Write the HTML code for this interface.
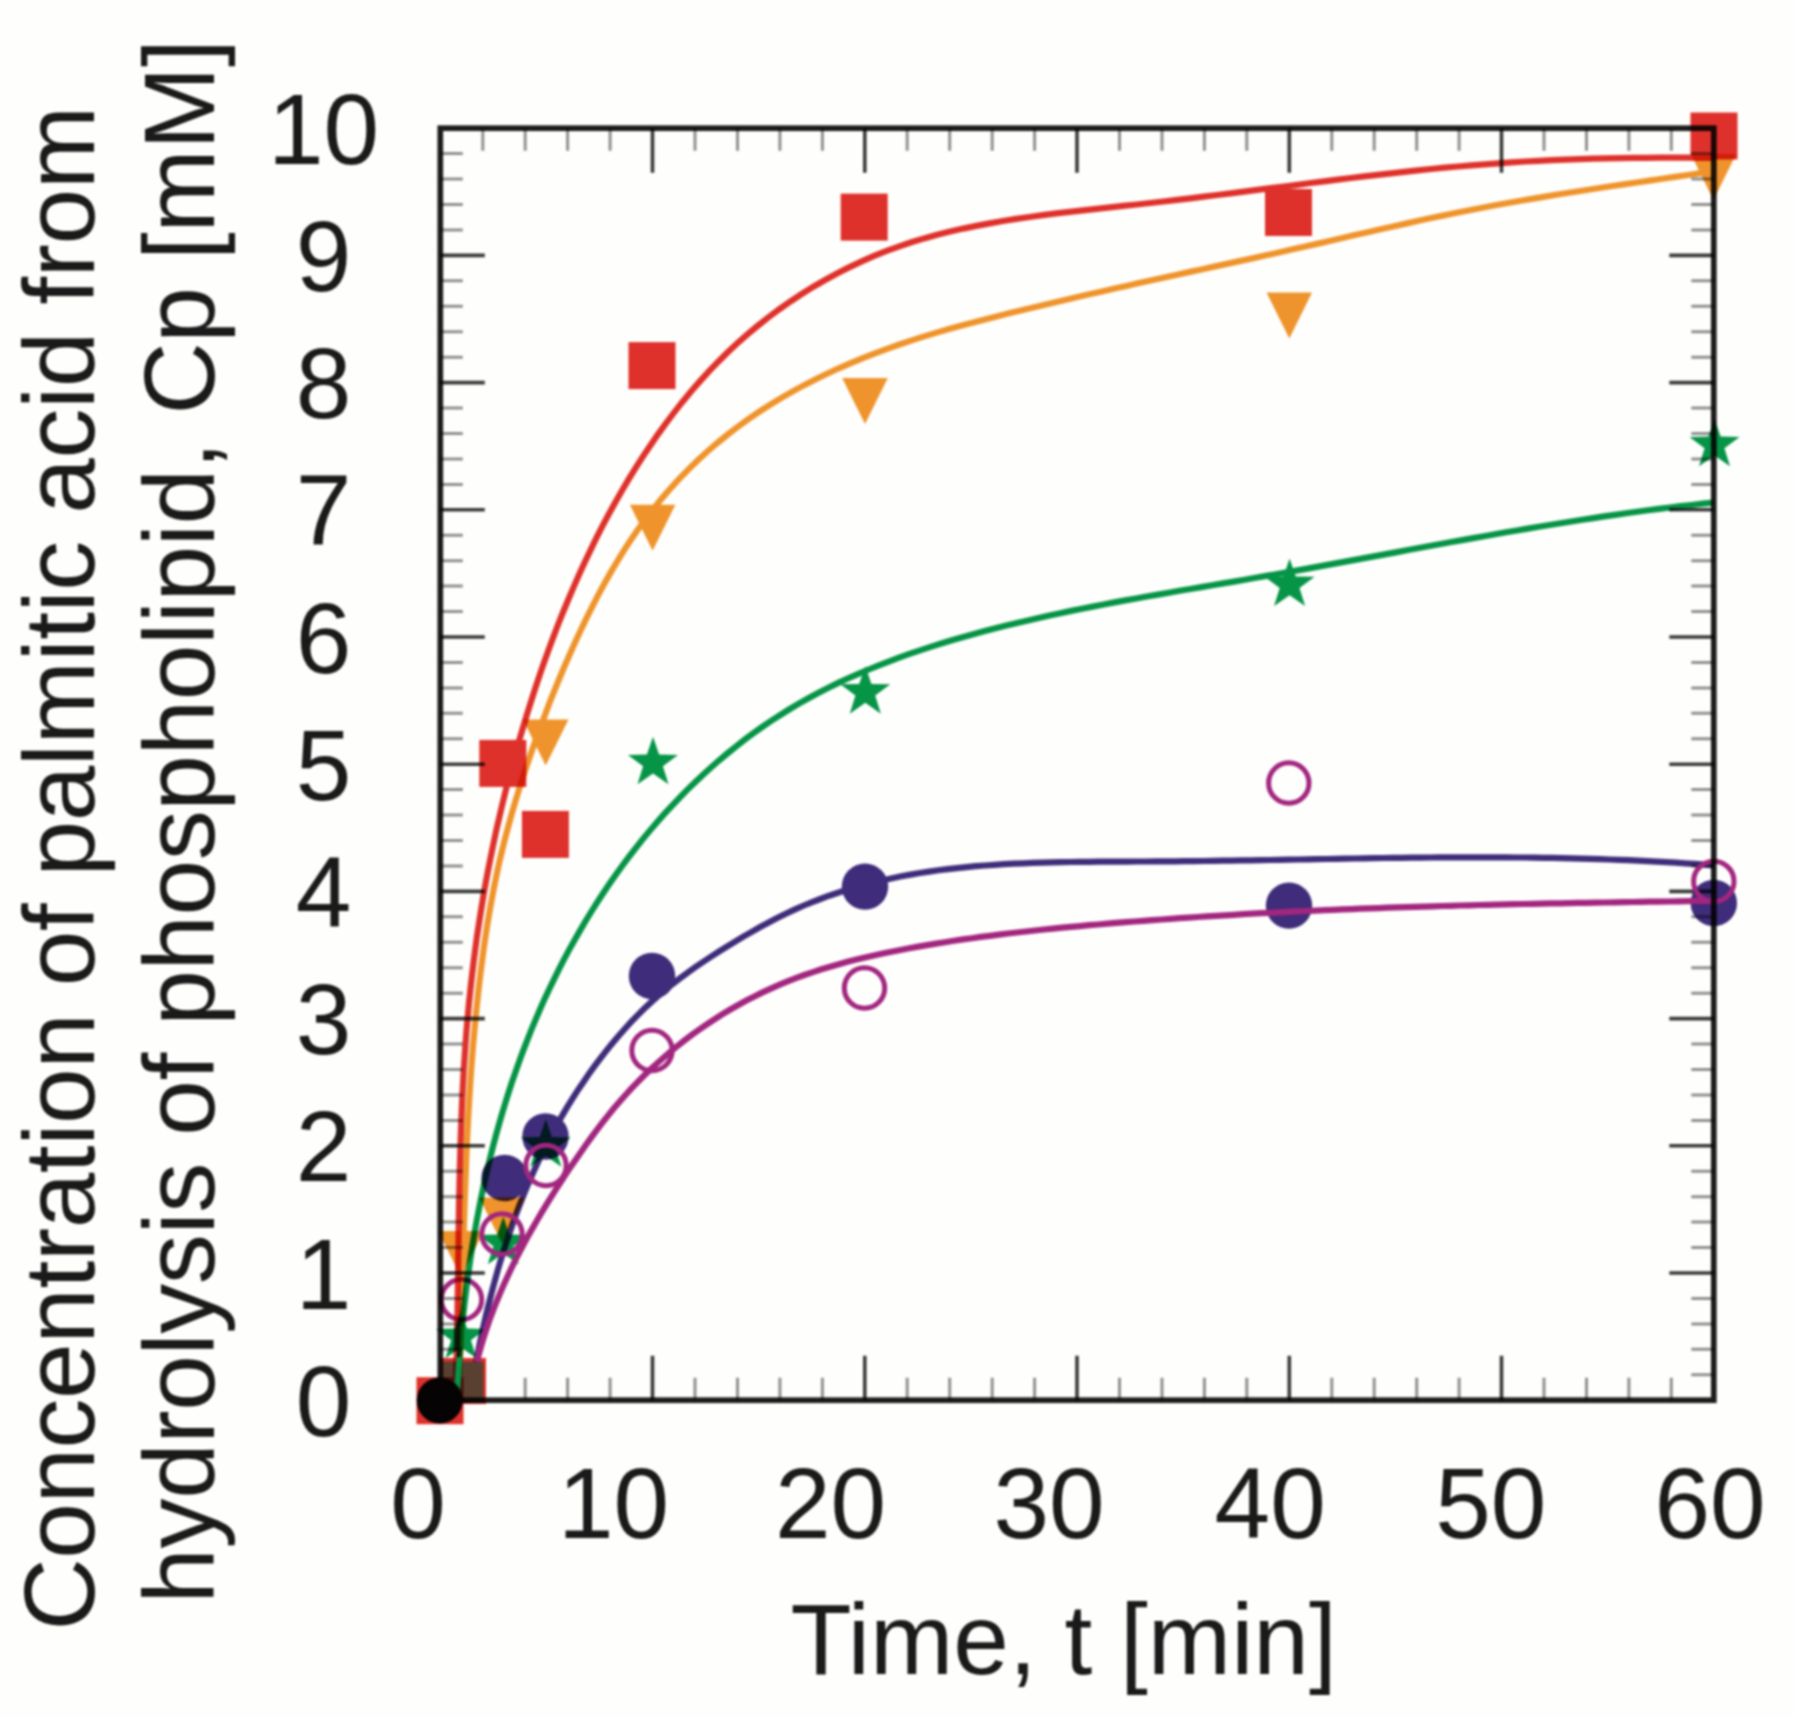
<!DOCTYPE html>
<html lang="en"><head><meta charset="utf-8"><title>Hydrolysis of phospholipid</title>
<style>html,body{margin:0;padding:0;background:#fefefc;overflow:hidden}svg{display:block}text{font-family:"Liberation Sans",sans-serif;fill:#1a1a1a}.mk{mix-blend-mode:multiply}</style></head><body>
<svg width="1794" height="1718" viewBox="0 0 1794 1718">
<defs><clipPath id="plot"><rect x="440.3" y="128.2" width="1273.5" height="1272.0"/></clipPath></defs>
<defs><filter id="soft" x="0" y="0" width="100%" height="100%" filterUnits="objectBoundingBox" color-interpolation-filters="sRGB"><feGaussianBlur stdDeviation="0.85"/></filter></defs>
<g filter="url(#soft)">
<rect x="-20" y="-20" width="1834" height="1758" fill="#fefefc"/>
<path d="M482.8 1400.2L482.8 1377.7M482.8 128.2L482.8 150.7M525.2 1400.2L525.2 1377.7M525.2 128.2L525.2 150.7M567.6 1400.2L567.6 1377.7M567.6 128.2L567.6 150.7M610.1 1400.2L610.1 1377.7M610.1 128.2L610.1 150.7M695.0 1400.2L695.0 1377.7M695.0 128.2L695.0 150.7M737.5 1400.2L737.5 1377.7M737.5 128.2L737.5 150.7M779.9 1400.2L779.9 1377.7M779.9 128.2L779.9 150.7M822.4 1400.2L822.4 1377.7M822.4 128.2L822.4 150.7M907.2 1400.2L907.2 1377.7M907.2 128.2L907.2 150.7M949.7 1400.2L949.7 1377.7M949.7 128.2L949.7 150.7M992.2 1400.2L992.2 1377.7M992.2 128.2L992.2 150.7M1034.6 1400.2L1034.6 1377.7M1034.6 128.2L1034.6 150.7M1119.5 1400.2L1119.5 1377.7M1119.5 128.2L1119.5 150.7M1162.0 1400.2L1162.0 1377.7M1162.0 128.2L1162.0 150.7M1204.4 1400.2L1204.4 1377.7M1204.4 128.2L1204.4 150.7M1246.8 1400.2L1246.8 1377.7M1246.8 128.2L1246.8 150.7M1331.8 1400.2L1331.8 1377.7M1331.8 128.2L1331.8 150.7M1374.2 1400.2L1374.2 1377.7M1374.2 128.2L1374.2 150.7M1416.7 1400.2L1416.7 1377.7M1416.7 128.2L1416.7 150.7M1459.1 1400.2L1459.1 1377.7M1459.1 128.2L1459.1 150.7M1544.0 1400.2L1544.0 1377.7M1544.0 128.2L1544.0 150.7M1586.5 1400.2L1586.5 1377.7M1586.5 128.2L1586.5 150.7M1628.9 1400.2L1628.9 1377.7M1628.9 128.2L1628.9 150.7M1671.3 1400.2L1671.3 1377.7M1671.3 128.2L1671.3 150.7M440.3 1374.8L462.8 1374.8M1713.8 1374.8L1691.3 1374.8M440.3 1349.3L462.8 1349.3M1713.8 1349.3L1691.3 1349.3M440.3 1323.9L462.8 1323.9M1713.8 1323.9L1691.3 1323.9M440.3 1298.4L462.8 1298.4M1713.8 1298.4L1691.3 1298.4M440.3 1247.6L462.8 1247.6M1713.8 1247.6L1691.3 1247.6M440.3 1222.1L462.8 1222.1M1713.8 1222.1L1691.3 1222.1M440.3 1196.7L462.8 1196.7M1713.8 1196.7L1691.3 1196.7M440.3 1171.2L462.8 1171.2M1713.8 1171.2L1691.3 1171.2M440.3 1120.4L462.8 1120.4M1713.8 1120.4L1691.3 1120.4M440.3 1094.9L462.8 1094.9M1713.8 1094.9L1691.3 1094.9M440.3 1069.5L462.8 1069.5M1713.8 1069.5L1691.3 1069.5M440.3 1044.0L462.8 1044.0M1713.8 1044.0L1691.3 1044.0M440.3 993.2L462.8 993.2M1713.8 993.2L1691.3 993.2M440.3 967.7L462.8 967.7M1713.8 967.7L1691.3 967.7M440.3 942.3L462.8 942.3M1713.8 942.3L1691.3 942.3M440.3 916.8L462.8 916.8M1713.8 916.8L1691.3 916.8M440.3 866.0L462.8 866.0M1713.8 866.0L1691.3 866.0M440.3 840.5L462.8 840.5M1713.8 840.5L1691.3 840.5M440.3 815.1L462.8 815.1M1713.8 815.1L1691.3 815.1M440.3 789.6L462.8 789.6M1713.8 789.6L1691.3 789.6M440.3 738.8L462.8 738.8M1713.8 738.8L1691.3 738.8M440.3 713.3L462.8 713.3M1713.8 713.3L1691.3 713.3M440.3 687.9L462.8 687.9M1713.8 687.9L1691.3 687.9M440.3 662.4L462.8 662.4M1713.8 662.4L1691.3 662.4M440.3 611.6L462.8 611.6M1713.8 611.6L1691.3 611.6M440.3 586.1L462.8 586.1M1713.8 586.1L1691.3 586.1M440.3 560.7L462.8 560.7M1713.8 560.7L1691.3 560.7M440.3 535.2L462.8 535.2M1713.8 535.2L1691.3 535.2M440.3 484.4L462.8 484.4M1713.8 484.4L1691.3 484.4M440.3 458.9L462.8 458.9M1713.8 458.9L1691.3 458.9M440.3 433.5L462.8 433.5M1713.8 433.5L1691.3 433.5M440.3 408.0L462.8 408.0M1713.8 408.0L1691.3 408.0M440.3 357.2L462.8 357.2M1713.8 357.2L1691.3 357.2M440.3 331.7L462.8 331.7M1713.8 331.7L1691.3 331.7M440.3 306.3L462.8 306.3M1713.8 306.3L1691.3 306.3M440.3 280.8L462.8 280.8M1713.8 280.8L1691.3 280.8M440.3 230.0L462.8 230.0M1713.8 230.0L1691.3 230.0M440.3 204.5L462.8 204.5M1713.8 204.5L1691.3 204.5M440.3 179.1L462.8 179.1M1713.8 179.1L1691.3 179.1M440.3 153.6L462.8 153.6M1713.8 153.6L1691.3 153.6" stroke="#909090" stroke-width="3.0" fill="none"/>
<path d="M652.5 1400.2L652.5 1355.7M652.5 128.2L652.5 172.7M864.8 1400.2L864.8 1355.7M864.8 128.2L864.8 172.7M1077.0 1400.2L1077.0 1355.7M1077.0 128.2L1077.0 172.7M1289.3 1400.2L1289.3 1355.7M1289.3 128.2L1289.3 172.7M1501.5 1400.2L1501.5 1355.7M1501.5 128.2L1501.5 172.7M440.3 1273.0L484.8 1273.0M1713.8 1273.0L1669.3 1273.0M440.3 1145.8L484.8 1145.8M1713.8 1145.8L1669.3 1145.8M440.3 1018.6L484.8 1018.6M1713.8 1018.6L1669.3 1018.6M440.3 891.4L484.8 891.4M1713.8 891.4L1669.3 891.4M440.3 764.2L484.8 764.2M1713.8 764.2L1669.3 764.2M440.3 637.0L484.8 637.0M1713.8 637.0L1669.3 637.0M440.3 509.8L484.8 509.8M1713.8 509.8L1669.3 509.8M440.3 382.6L484.8 382.6M1713.8 382.6L1669.3 382.6M440.3 255.4L484.8 255.4M1713.8 255.4L1669.3 255.4" stroke="#3a3a3a" stroke-width="3.6" fill="none"/>
<circle cx="461.5" cy="1299.5" r="20.2" fill="none" stroke="#a2267f" stroke-width="5.0"/>
<rect x="440.0" y="1358.0" width="46.0" height="46.0" fill="#e0312b"/>
<rect x="442.5" y="1361.5" width="41.0" height="41.0" fill="#5a4030"/>
<g class="mk">
<path clip-path="url(#plot)" d="M455.0 1407.9 L455.5 1394.5 L456.0 1381.1 L456.3 1367.6 L456.7 1354.2 L457.0 1340.8 L457.2 1327.3 L457.5 1313.8 L457.7 1300.4 L457.9 1286.9 L458.1 1273.4 L458.2 1259.9 L458.4 1246.4 L458.6 1232.9 L458.8 1219.4 L459.0 1205.9 L459.3 1192.4 L459.6 1178.9 L459.9 1165.4 L460.3 1151.9 L460.7 1138.4 L461.2 1124.9 L461.7 1111.4 L462.3 1097.9 L463.0 1084.4 L463.7 1071.0 L464.6 1057.5 L465.5 1044.1 L466.5 1030.6 L467.7 1017.2 L468.9 1003.8 L470.3 990.4 L471.8 977.0 L473.4 963.7 L475.1 950.3 L476.9 937.0 L478.9 923.7 L481.0 910.4 L483.2 897.1 L485.5 883.9 L488.0 870.7 L490.6 857.5 L493.3 844.3 L496.1 831.1 L499.1 818.0 L502.2 804.9 L505.4 791.8 L508.7 778.7 L512.1 765.7 L515.7 752.7 L519.4 739.7 L523.2 726.8 L527.1 713.9 L531.2 701.0 L535.3 688.1 L539.6 675.3 L544.0 662.6 L548.6 649.8 L553.3 637.2 L558.1 624.5 L563.1 612.0 L568.3 599.5 L573.6 587.1 L579.0 574.7 L584.6 562.5 L590.4 550.3 L596.3 538.2 L602.4 526.2 L608.7 514.3 L615.2 502.5 L621.9 490.8 L628.7 479.2 L635.8 467.7 L643.0 456.4 L650.5 445.2 L658.1 434.1 L666.0 423.2 L674.1 412.5 L682.4 401.9 L691.0 391.5 L699.8 381.4 L708.9 371.4 L718.2 361.7 L727.7 352.3 L737.6 343.1 L747.7 334.1 L758.1 325.5 L768.7 317.1 L779.5 309.1 L790.6 301.3 L801.9 293.9 L813.4 286.7 L825.1 280.0 L837.0 273.5 L849.0 267.4 L861.2 261.6 L873.5 256.2 L886.0 251.2 L898.6 246.6 L911.3 242.3 L924.1 238.4 L937.1 234.8 L950.1 231.6 L963.2 228.6 L976.4 225.9 L989.6 223.4 L1002.9 221.0 L1016.2 218.9 L1029.5 217.0 L1042.8 215.1 L1056.2 213.4 L1069.6 211.8 L1083.0 210.3 L1096.5 208.8 L1109.9 207.3 L1123.3 205.9 L1136.8 204.5 L1150.2 203.0 L1163.6 201.5 L1177.0 199.9 L1190.4 198.3 L1203.8 196.7 L1217.2 195.0 L1230.6 193.3 L1243.9 191.6 L1257.3 189.9 L1270.7 188.2 L1284.0 186.5 L1297.4 184.8 L1310.7 183.0 L1324.1 181.4 L1337.5 179.7 L1350.8 178.0 L1364.2 176.4 L1377.6 174.9 L1390.9 173.3 L1404.3 171.8 L1417.7 170.4 L1431.1 169.0 L1444.5 167.7 L1457.9 166.5 L1471.3 165.3 L1484.7 164.3 L1498.2 163.3 L1511.6 162.4 L1525.1 161.5 L1538.6 160.8 L1552.0 160.2 L1565.5 159.6 L1579.0 159.1 L1592.5 158.7 L1606.0 158.4 L1619.5 158.1 L1633.0 157.9 L1646.5 157.8 L1659.9 157.7 L1673.4 157.7 L1686.9 157.7 L1700.3 157.8 L1713.8 157.9" fill="none" stroke="#e0312b" stroke-width="6.2"/>
<rect x="416.5" y="1377.2" width="47.0" height="47.0" fill="#e0312b"/>
<rect x="479.3" y="739.9" width="47.0" height="47.0" fill="#e0312b"/>
<rect x="521.9" y="810.9" width="47.0" height="47.0" fill="#e0312b"/>
<rect x="628.5" y="342.1" width="47.0" height="47.0" fill="#e0312b"/>
<rect x="840.7" y="193.6" width="47.0" height="47.0" fill="#e0312b"/>
<rect x="1265.0" y="189.0" width="47.0" height="47.0" fill="#e0312b"/>
<rect x="1690.5" y="112.5" width="47.0" height="47.0" fill="#e0312b"/>
</g>
<g class="mk">
<path clip-path="url(#plot)" d="M458.1 1408.0 L458.7 1395.0 L459.2 1382.0 L459.7 1369.0 L460.1 1356.0 L460.5 1343.0 L460.9 1329.9 L461.3 1316.9 L461.7 1303.9 L462.1 1290.9 L462.4 1277.9 L462.8 1264.9 L463.1 1251.8 L463.5 1238.8 L463.9 1225.8 L464.3 1212.8 L464.7 1199.7 L465.2 1186.7 L465.7 1173.7 L466.2 1160.7 L466.7 1147.7 L467.3 1134.7 L468.0 1121.7 L468.7 1108.7 L469.5 1095.7 L470.3 1082.7 L471.2 1069.7 L472.2 1056.7 L473.2 1043.7 L474.4 1030.8 L475.6 1017.8 L476.9 1004.9 L478.3 991.9 L479.8 979.0 L481.4 966.0 L483.1 953.1 L484.9 940.2 L486.9 927.3 L489.0 914.5 L491.3 901.7 L493.7 888.9 L496.3 876.1 L499.0 863.4 L502.0 850.8 L505.1 838.2 L508.5 825.6 L511.9 813.1 L515.6 800.6 L519.4 788.2 L523.4 775.8 L527.5 763.5 L531.7 751.2 L536.0 739.0 L540.5 726.7 L545.1 714.6 L549.7 702.4 L554.5 690.3 L559.5 678.3 L564.5 666.3 L569.7 654.4 L575.0 642.5 L580.5 630.7 L586.1 618.9 L591.9 607.3 L597.9 595.7 L604.0 584.2 L610.4 572.9 L617.0 561.7 L623.8 550.6 L630.9 539.7 L638.3 529.0 L645.9 518.5 L653.9 508.2 L662.1 498.1 L670.6 488.3 L679.4 478.7 L688.5 469.4 L697.8 460.3 L707.4 451.5 L717.3 443.0 L727.4 434.8 L737.7 426.9 L748.2 419.2 L759.0 411.9 L769.9 404.9 L781.0 398.1 L792.3 391.6 L803.7 385.4 L815.3 379.5 L827.0 373.8 L838.8 368.3 L850.7 363.1 L862.8 358.1 L874.9 353.4 L887.1 348.8 L899.4 344.5 L911.8 340.4 L924.2 336.4 L936.6 332.6 L949.1 329.0 L961.7 325.5 L974.2 322.2 L986.8 318.9 L999.5 315.7 L1012.1 312.6 L1024.8 309.5 L1037.5 306.5 L1050.1 303.5 L1062.8 300.5 L1075.5 297.6 L1088.2 294.6 L1100.9 291.7 L1113.6 288.8 L1126.3 286.0 L1139.0 283.1 L1151.7 280.3 L1164.4 277.5 L1177.1 274.7 L1189.8 271.9 L1202.5 269.2 L1215.3 266.4 L1228.0 263.6 L1240.7 260.9 L1253.4 258.1 L1266.1 255.3 L1278.8 252.5 L1291.5 249.6 L1304.2 246.7 L1316.9 243.9 L1329.6 240.9 L1342.3 238.0 L1355.0 235.1 L1367.7 232.2 L1380.4 229.3 L1393.1 226.4 L1405.8 223.6 L1418.5 220.8 L1431.2 218.0 L1444.0 215.4 L1456.7 212.7 L1469.5 210.2 L1482.3 207.7 L1495.1 205.3 L1507.9 203.0 L1520.7 200.8 L1533.5 198.6 L1546.4 196.4 L1559.2 194.3 L1572.1 192.3 L1585.0 190.2 L1597.8 188.3 L1610.7 186.3 L1623.6 184.4 L1636.5 182.5 L1649.4 180.6 L1662.3 178.7 L1675.1 176.9 L1688.0 175.0 L1700.9 173.1 L1713.8 171.2" fill="none" stroke="#f0952c" stroke-width="6.2"/>
<polygon points="438.2,1231.0 483.8,1231.0 461.0,1277.0" fill="#f0952c"/>
<polygon points="479.2,1197.5 524.8,1197.5 502.0,1243.5" fill="#f0952c"/>
<polygon points="523.0,719.5 568.5,719.5 545.7,765.5" fill="#f0952c"/>
<polygon points="629.9,504.7 675.4,504.7 652.6,550.7" fill="#f0952c"/>
<polygon points="842.2,378.0 887.8,378.0 865.0,424.0" fill="#f0952c"/>
<polygon points="1266.5,292.4 1312.0,292.4 1289.3,338.4" fill="#f0952c"/>
<polygon points="1690.8,154.0 1736.2,154.0 1713.5,200.0" fill="#f0952c"/>
</g>
<g class="mk">
<path clip-path="url(#plot)" d="M456.4 1408.0 L456.9 1396.9 L457.5 1385.9 L458.2 1374.9 L458.9 1363.8 L459.8 1352.8 L460.7 1341.8 L461.7 1330.8 L462.7 1319.7 L463.9 1308.7 L465.2 1297.7 L466.5 1286.8 L468.0 1275.8 L469.5 1264.8 L471.1 1253.9 L472.9 1243.0 L474.7 1232.1 L476.6 1221.2 L478.7 1210.3 L480.8 1199.5 L483.1 1188.7 L485.4 1177.9 L487.9 1167.1 L490.5 1156.4 L493.2 1145.7 L496.0 1135.1 L499.0 1124.4 L502.0 1113.8 L505.2 1103.3 L508.5 1092.8 L511.9 1082.3 L515.5 1071.9 L519.2 1061.5 L523.0 1051.1 L527.0 1040.8 L531.0 1030.6 L535.3 1020.4 L539.6 1010.2 L544.1 1000.1 L548.8 990.0 L553.6 980.1 L558.5 970.1 L563.6 960.2 L568.8 950.4 L574.2 940.7 L579.7 931.1 L585.3 921.5 L591.1 912.0 L597.0 902.6 L603.1 893.3 L609.3 884.1 L615.6 875.0 L622.1 866.0 L628.7 857.1 L635.5 848.3 L642.4 839.6 L649.4 831.1 L656.6 822.7 L663.9 814.4 L671.4 806.3 L679.0 798.3 L686.7 790.4 L694.6 782.7 L702.5 775.2 L710.7 767.8 L718.9 760.5 L727.3 753.5 L735.9 746.6 L744.5 739.8 L753.3 733.3 L762.3 726.9 L771.3 720.8 L780.5 714.8 L789.8 709.0 L799.3 703.4 L808.9 698.0 L818.6 692.8 L828.4 687.8 L838.3 682.9 L848.3 678.3 L858.4 673.8 L868.7 669.5 L878.9 665.3 L889.3 661.3 L899.7 657.4 L910.2 653.7 L920.8 650.1 L931.4 646.6 L942.0 643.3 L952.7 640.0 L963.4 636.9 L974.1 633.9 L984.8 631.0 L995.6 628.2 L1006.3 625.5 L1017.1 622.9 L1027.9 620.4 L1038.7 617.9 L1049.5 615.5 L1060.3 613.2 L1071.1 610.9 L1081.9 608.7 L1092.7 606.6 L1103.6 604.5 L1114.4 602.4 L1125.2 600.4 L1136.1 598.5 L1146.9 596.5 L1157.8 594.6 L1168.7 592.7 L1179.5 590.8 L1190.4 589.0 L1201.3 587.1 L1212.1 585.3 L1223.0 583.4 L1233.9 581.6 L1244.8 579.7 L1255.6 577.8 L1266.5 575.9 L1277.4 574.0 L1288.2 572.0 L1299.1 570.1 L1310.0 568.1 L1320.9 566.1 L1331.7 564.1 L1342.6 562.1 L1353.5 560.1 L1364.4 558.1 L1375.3 556.1 L1386.1 554.1 L1397.0 552.1 L1407.9 550.0 L1418.8 548.0 L1429.7 546.0 L1440.6 544.0 L1451.4 542.0 L1462.3 540.1 L1473.2 538.1 L1484.1 536.2 L1495.0 534.3 L1505.9 532.3 L1516.8 530.5 L1527.7 528.6 L1538.7 526.8 L1549.6 525.0 L1560.5 523.2 L1571.4 521.5 L1582.3 519.8 L1593.3 518.1 L1604.2 516.4 L1615.1 514.9 L1626.1 513.3 L1637.0 511.8 L1648.0 510.3 L1658.9 508.9 L1669.9 507.5 L1680.9 506.2 L1691.8 505.0 L1702.8 503.7 L1713.8 502.6" fill="none" stroke="#069547" stroke-width="6.2"/>
<polygon points="461.0,1310.7 467.1,1328.6 486.0,1328.9 470.9,1340.2 476.5,1358.3 461.0,1347.4 445.5,1358.3 451.1,1340.2 436.0,1328.9 454.9,1328.6" fill="#069547"/>
<polygon points="503.3,1216.7 509.4,1234.6 528.3,1234.9 513.2,1246.2 518.8,1264.3 503.3,1253.4 487.8,1264.3 493.4,1246.2 478.3,1234.9 497.2,1234.6" fill="#069547"/>
<polygon points="545.8,1119.2 551.9,1137.1 570.8,1137.4 555.7,1148.7 561.3,1166.8 545.8,1155.9 530.3,1166.8 535.9,1148.7 520.8,1137.4 539.7,1137.1" fill="#069547"/>
<polygon points="653.0,736.7 659.1,754.6 678.0,754.9 662.9,766.2 668.5,784.3 653.0,773.4 637.5,784.3 643.1,766.2 628.0,754.9 646.9,754.6" fill="#069547"/>
<polygon points="865.3,666.1 871.4,684.0 890.3,684.3 875.2,695.6 880.8,713.7 865.3,702.8 849.8,713.7 855.4,695.6 840.3,684.3 859.2,684.0" fill="#069547"/>
<polygon points="1289.6,558.5 1295.7,576.4 1314.6,576.7 1299.5,588.0 1305.1,606.1 1289.6,595.2 1274.1,606.1 1279.7,588.0 1264.6,576.7 1283.5,576.4" fill="#069547"/>
<polygon points="1714.5,418.7 1720.6,436.6 1739.5,436.9 1724.4,448.2 1730.0,466.3 1714.5,455.4 1699.0,466.3 1704.6,448.2 1689.5,436.9 1708.4,436.6" fill="#069547"/>
</g>
<g class="mk">
<path clip-path="url(#plot)" d="M476.1 1362.0 L477.9 1352.7 L479.8 1343.5 L481.7 1334.2 L483.8 1325.0 L485.9 1315.8 L488.1 1306.6 L490.4 1297.4 L492.8 1288.3 L495.3 1279.1 L497.8 1270.0 L500.5 1260.9 L503.3 1251.9 L506.2 1242.9 L509.2 1233.9 L512.3 1224.9 L515.5 1216.0 L518.8 1207.2 L522.2 1198.4 L525.8 1189.6 L529.5 1180.9 L533.3 1172.2 L537.2 1163.6 L541.3 1155.1 L545.4 1146.6 L549.7 1138.2 L554.2 1129.9 L558.8 1121.6 L563.5 1113.4 L568.4 1105.2 L573.4 1097.2 L578.5 1089.2 L583.8 1081.4 L589.2 1073.6 L594.7 1065.9 L600.4 1058.3 L606.2 1050.9 L612.2 1043.5 L618.3 1036.3 L624.5 1029.2 L630.9 1022.2 L637.5 1015.4 L644.1 1008.8 L650.9 1002.4 L657.9 996.1 L665.0 990.1 L672.3 984.2 L679.7 978.5 L687.2 972.9 L694.8 967.5 L702.6 962.2 L710.5 957.0 L718.4 951.9 L726.5 946.8 L734.7 941.9 L742.9 936.9 L751.3 932.1 L759.7 927.3 L768.2 922.7 L776.7 918.2 L785.3 914.0 L794.0 909.9 L802.7 906.0 L811.5 902.4 L820.3 899.0 L829.1 895.7 L838.0 892.7 L846.9 889.8 L855.9 887.2 L864.9 884.7 L874.0 882.3 L883.1 880.2 L892.2 878.2 L901.4 876.3 L910.5 874.6 L919.8 873.0 L929.0 871.6 L938.3 870.3 L947.6 869.1 L956.9 868.1 L966.3 867.1 L975.7 866.2 L985.1 865.5 L994.5 864.8 L1003.9 864.2 L1013.4 863.7 L1022.8 863.3 L1032.3 862.9 L1041.8 862.6 L1051.3 862.4 L1060.8 862.2 L1070.3 862.0 L1079.8 861.9 L1089.4 861.8 L1098.9 861.7 L1108.4 861.6 L1118.0 861.6 L1127.5 861.6 L1137.0 861.5 L1146.5 861.5 L1156.0 861.4 L1165.6 861.4 L1175.1 861.3 L1184.6 861.2 L1194.0 861.1 L1203.5 861.0 L1213.0 860.9 L1222.5 860.7 L1232.0 860.6 L1241.4 860.4 L1250.9 860.3 L1260.3 860.1 L1269.8 860.0 L1279.2 859.8 L1288.7 859.6 L1298.1 859.5 L1307.6 859.3 L1317.0 859.1 L1326.5 859.0 L1335.9 858.8 L1345.3 858.6 L1354.8 858.5 L1364.2 858.3 L1373.6 858.2 L1383.0 858.0 L1392.5 857.9 L1401.9 857.8 L1411.3 857.7 L1420.7 857.6 L1430.2 857.5 L1439.6 857.4 L1449.0 857.4 L1458.4 857.3 L1467.9 857.3 L1477.3 857.3 L1486.7 857.3 L1496.2 857.3 L1505.6 857.4 L1515.0 857.5 L1524.5 857.5 L1533.9 857.7 L1543.3 857.8 L1552.8 857.9 L1562.2 858.1 L1571.7 858.3 L1581.1 858.6 L1590.6 858.8 L1600.1 859.1 L1609.5 859.5 L1619.0 859.8 L1628.5 860.2 L1638.0 860.6 L1647.5 861.1 L1657.0 861.6 L1666.5 862.1 L1676.0 862.7 L1685.5 863.3 L1695.0 863.9 L1704.5 864.6 L1714.1 865.3" fill="none" stroke="#3f2c7b" stroke-width="6.2"/>
<circle cx="504.6" cy="1178.0" r="23.2" fill="#3f2c7b"/>
<circle cx="545.5" cy="1136.5" r="23.2" fill="#3f2c7b"/>
<circle cx="652.0" cy="976.0" r="23.2" fill="#3f2c7b"/>
<circle cx="865.0" cy="886.6" r="23.2" fill="#3f2c7b"/>
<circle cx="1289.0" cy="905.6" r="23.2" fill="#3f2c7b"/>
<circle cx="1713.8" cy="903.0" r="23.2" fill="#3f2c7b"/>
</g>
<g>
<path clip-path="url(#plot)" d="M476.8 1361.9 L479.1 1353.1 L481.6 1344.4 L484.2 1335.8 L487.0 1327.2 L490.0 1318.6 L493.2 1310.2 L496.5 1301.7 L500.0 1293.4 L503.6 1285.1 L507.3 1276.9 L511.2 1268.7 L515.1 1260.6 L519.3 1252.5 L523.5 1244.5 L527.8 1236.5 L532.3 1228.6 L536.8 1220.7 L541.4 1212.9 L546.1 1205.1 L550.9 1197.4 L555.8 1189.7 L560.7 1182.0 L565.7 1174.4 L570.7 1166.9 L575.8 1159.4 L581.0 1151.9 L586.2 1144.5 L591.5 1137.1 L596.9 1129.9 L602.4 1122.7 L608.0 1115.6 L613.7 1108.6 L619.5 1101.8 L625.5 1095.0 L631.5 1088.4 L637.8 1081.9 L644.1 1075.5 L650.6 1069.3 L657.2 1063.2 L664.0 1057.2 L670.8 1051.3 L677.9 1045.6 L685.0 1040.0 L692.3 1034.5 L699.7 1029.2 L707.2 1024.1 L714.8 1019.1 L722.5 1014.2 L730.3 1009.5 L738.3 1005.0 L746.3 1000.6 L754.4 996.4 L762.5 992.4 L770.8 988.6 L779.1 984.9 L787.5 981.4 L795.9 978.1 L804.4 975.0 L812.9 972.1 L821.5 969.3 L830.1 966.7 L838.8 964.2 L847.5 961.8 L856.3 959.6 L865.0 957.5 L873.8 955.5 L882.7 953.5 L891.5 951.7 L900.4 950.0 L909.3 948.3 L918.2 946.6 L927.1 945.1 L936.0 943.6 L945.0 942.2 L953.9 940.8 L962.9 939.4 L971.8 938.2 L980.8 936.9 L989.8 935.8 L998.8 934.6 L1007.8 933.5 L1016.8 932.5 L1025.9 931.5 L1034.9 930.5 L1043.9 929.5 L1052.9 928.6 L1062.0 927.7 L1071.0 926.9 L1080.1 926.1 L1089.1 925.2 L1098.1 924.5 L1107.2 923.7 L1116.2 922.9 L1125.3 922.2 L1134.3 921.5 L1143.4 920.8 L1152.4 920.1 L1161.5 919.5 L1170.5 918.8 L1179.5 918.2 L1188.6 917.6 L1197.6 917.0 L1206.7 916.4 L1215.7 915.8 L1224.8 915.3 L1233.8 914.8 L1242.9 914.2 L1251.9 913.7 L1260.9 913.2 L1270.0 912.8 L1279.0 912.3 L1288.1 911.9 L1297.1 911.4 L1306.2 911.0 L1315.2 910.6 L1324.3 910.2 L1333.3 909.8 L1342.4 909.4 L1351.4 909.1 L1360.5 908.7 L1369.5 908.4 L1378.6 908.1 L1387.6 907.7 L1396.7 907.4 L1405.7 907.1 L1414.8 906.8 L1423.8 906.6 L1432.9 906.3 L1441.9 906.0 L1451.0 905.8 L1460.0 905.5 L1469.1 905.3 L1478.2 905.0 L1487.2 904.8 L1496.3 904.6 L1505.3 904.4 L1514.4 904.2 L1523.4 904.0 L1532.5 903.8 L1541.6 903.6 L1550.6 903.4 L1559.7 903.3 L1568.7 903.1 L1577.8 902.9 L1586.9 902.8 L1595.9 902.6 L1605.0 902.5 L1614.1 902.3 L1623.1 902.2 L1632.2 902.0 L1641.3 901.9 L1650.3 901.7 L1659.4 901.6 L1668.5 901.5 L1677.5 901.3 L1686.6 901.2 L1695.7 901.0 L1704.8 900.9 L1713.8 900.8" fill="none" stroke="#a2267f" stroke-width="6.2"/>
<circle cx="502.0" cy="1234.0" r="20.2" fill="none" stroke="#a2267f" stroke-width="5.0"/>
<circle cx="546.0" cy="1165.5" r="20.2" fill="none" stroke="#a2267f" stroke-width="5.0"/>
<circle cx="652.0" cy="1050.5" r="20.2" fill="none" stroke="#a2267f" stroke-width="5.0"/>
<circle cx="864.5" cy="988.0" r="20.2" fill="none" stroke="#a2267f" stroke-width="5.0"/>
<circle cx="1288.8" cy="783.0" r="20.2" fill="none" stroke="#a2267f" stroke-width="5.0"/>
<circle cx="1713.8" cy="881.4" r="20.2" fill="none" stroke="#a2267f" stroke-width="5.0"/>
</g>
<clipPath id="bsq"><rect x="440" y="1357" width="47" height="44"/></clipPath>
<path clip-path="url(#bsq)" d="M456.4 1408.0 L456.9 1396.9 L457.5 1385.9 L458.2 1374.9 L458.9 1363.8 L459.8 1352.8 L460.7 1341.8 L461.7 1330.8 L462.7 1319.7 L463.9 1308.7 L465.2 1297.7 L466.5 1286.8 L468.0 1275.8 L469.5 1264.8 L471.1 1253.9 L472.9 1243.0 L474.7 1232.1 L476.6 1221.2 L478.7 1210.3 L480.8 1199.5 L483.1 1188.7 L485.4 1177.9 L487.9 1167.1 L490.5 1156.4 L493.2 1145.7 L496.0 1135.1 L499.0 1124.4 L502.0 1113.8 L505.2 1103.3 L508.5 1092.8 L511.9 1082.3 L515.5 1071.9 L519.2 1061.5 L523.0 1051.1 L527.0 1040.8 L531.0 1030.6 L535.3 1020.4 L539.6 1010.2 L544.1 1000.1 L548.8 990.0 L553.6 980.1 L558.5 970.1 L563.6 960.2 L568.8 950.4 L574.2 940.7 L579.7 931.1 L585.3 921.5 L591.1 912.0 L597.0 902.6 L603.1 893.3 L609.3 884.1 L615.6 875.0 L622.1 866.0 L628.7 857.1 L635.5 848.3 L642.4 839.6 L649.4 831.1 L656.6 822.7 L663.9 814.4 L671.4 806.3 L679.0 798.3 L686.7 790.4 L694.6 782.7 L702.5 775.2 L710.7 767.8 L718.9 760.5 L727.3 753.5 L735.9 746.6 L744.5 739.8 L753.3 733.3 L762.3 726.9 L771.3 720.8 L780.5 714.8 L789.8 709.0 L799.3 703.4 L808.9 698.0 L818.6 692.8 L828.4 687.8 L838.3 682.9 L848.3 678.3 L858.4 673.8 L868.7 669.5 L878.9 665.3 L889.3 661.3 L899.7 657.4 L910.2 653.7 L920.8 650.1 L931.4 646.6 L942.0 643.3 L952.7 640.0 L963.4 636.9 L974.1 633.9 L984.8 631.0 L995.6 628.2 L1006.3 625.5 L1017.1 622.9 L1027.9 620.4 L1038.7 617.9 L1049.5 615.5 L1060.3 613.2 L1071.1 610.9 L1081.9 608.7 L1092.7 606.6 L1103.6 604.5 L1114.4 602.4 L1125.2 600.4 L1136.1 598.5 L1146.9 596.5 L1157.8 594.6 L1168.7 592.7 L1179.5 590.8 L1190.4 589.0 L1201.3 587.1 L1212.1 585.3 L1223.0 583.4 L1233.9 581.6 L1244.8 579.7 L1255.6 577.8 L1266.5 575.9 L1277.4 574.0 L1288.2 572.0 L1299.1 570.1 L1310.0 568.1 L1320.9 566.1 L1331.7 564.1 L1342.6 562.1 L1353.5 560.1 L1364.4 558.1 L1375.3 556.1 L1386.1 554.1 L1397.0 552.1 L1407.9 550.0 L1418.8 548.0 L1429.7 546.0 L1440.6 544.0 L1451.4 542.0 L1462.3 540.1 L1473.2 538.1 L1484.1 536.2 L1495.0 534.3 L1505.9 532.3 L1516.8 530.5 L1527.7 528.6 L1538.7 526.8 L1549.6 525.0 L1560.5 523.2 L1571.4 521.5 L1582.3 519.8 L1593.3 518.1 L1604.2 516.4 L1615.1 514.9 L1626.1 513.3 L1637.0 511.8 L1648.0 510.3 L1658.9 508.9 L1669.9 507.5 L1680.9 506.2 L1691.8 505.0 L1702.8 503.7 L1713.8 502.6" fill="none" stroke="#069547" stroke-width="6.2"/>
<rect x="440.3" y="128.2" width="1273.5" height="1272.0" fill="none" stroke="#1c1c1c" stroke-width="5.7" class="mk"/>
<circle cx="439.7" cy="1400.5" r="23" fill="#050303"/>
<text x="323.5" y="1435.7" font-size="100" text-anchor="middle">0</text>
<text x="323.5" y="1308.5" font-size="100" text-anchor="middle">1</text>
<text x="323.5" y="1181.3" font-size="100" text-anchor="middle">2</text>
<text x="323.5" y="1054.1" font-size="100" text-anchor="middle">3</text>
<text x="323.5" y="926.9" font-size="100" text-anchor="middle">4</text>
<text x="323.5" y="799.7" font-size="100" text-anchor="middle">5</text>
<text x="323.5" y="672.5" font-size="100" text-anchor="middle">6</text>
<text x="323.5" y="545.3" font-size="100" text-anchor="middle">7</text>
<text x="323.5" y="418.1" font-size="100" text-anchor="middle">8</text>
<text x="323.5" y="290.9" font-size="100" text-anchor="middle">9</text>
<text x="323.5" y="163.7" font-size="100" text-anchor="middle">10</text>
<text x="418.0" y="1538.2" font-size="100" text-anchor="middle">0</text>
<text x="613.5" y="1538.2" font-size="100" text-anchor="middle">10</text>
<text x="830.6" y="1538.2" font-size="100" text-anchor="middle">20</text>
<text x="1049.0" y="1538.2" font-size="100" text-anchor="middle">30</text>
<text x="1270.2" y="1538.2" font-size="100" text-anchor="middle">40</text>
<text x="1490.8" y="1538.2" font-size="100" text-anchor="middle">50</text>
<text x="1710.1" y="1538.2" font-size="100" text-anchor="middle">60</text>
<text x="1063.6" y="1673.6" font-size="100" text-anchor="middle">Time, t [min]</text>
<text transform="translate(93.9 868.3) rotate(-90)" font-size="100" text-anchor="middle" textLength="1524.5" lengthAdjust="spacing">Concentration of palmitic acid from</text>
<text transform="translate(214.4 821.4) rotate(-90)" font-size="100" text-anchor="middle" textLength="1564.5" lengthAdjust="spacing">hydrolysis of phospholipid, Cp [mM]</text>
</g>
</svg></body></html>
